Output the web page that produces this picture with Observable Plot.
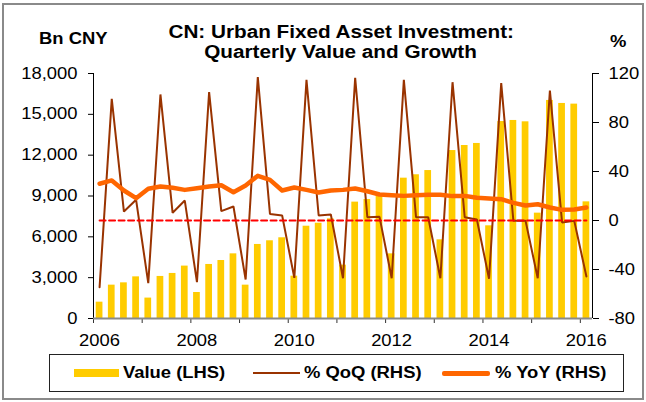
<!DOCTYPE html>
<html>
<head>
<meta charset="utf-8">
<script src="https://cdn.jsdelivr.net/npm/d3@7"></script>
<script src="https://cdn.jsdelivr.net/npm/@observablehq/plot@0.6"></script>
<style>
  html, body { margin: 0; padding: 0; background: #fff; }
  #wrap { position: relative; width: 646px; height: 402px; background: #fff; overflow: hidden;
          font-family: "Liberation Sans", Arial, sans-serif; color: #000; }
  #frame { position: absolute; left: 2px; top: 3px; width: 642px; height: 397px; box-sizing: border-box;
           border: 2px solid #8a8a8a; }
  .t { position: absolute; white-space: nowrap; }
  .s { display: inline-block; transform: scaleX(1.15); }
  #chart { position: absolute; left: 0; top: 60px; }
  #legend { position: absolute; left: 49px; top: 354px; width: 575px; height: 38px; box-sizing: border-box;
            border: 1.5px solid #222; }
  .sw { position: absolute; }
</style>
</head>
<body>
<div id="wrap">
  <div id="frame"></div>
  <div class="t" style="left:0;width:682px;top:21.5px;font:bold 18px/20px 'Liberation Sans',Arial,sans-serif;text-align:center;">
    <span class="s" style="transform-origin:center">CN: Urban Fixed Asset Investment:</span><br>
    <span class="s" style="transform-origin:center">Quarterly Value and Growth</span>
  </div>
  <div class="t" style="left:38.5px;top:30.8px;font:bold 16px/16px 'Liberation Sans',Arial,sans-serif;"><span class="s" style="transform-origin:left">Bn CNY</span></div>
  <div class="t" style="left:610px;top:33.5px;font:bold 16px/16px 'Liberation Sans',Arial,sans-serif;"><span class="s" style="transform-origin:left">%</span></div>
  <div id="chart"></div>
  <div class="sw" style="left:74px;top:369px;width:45px;height:8px;background:#FFCC00;"></div>
  <div class="sw" style="left:253px;top:372px;width:47px;height:2px;background:#993300;"></div>
  <div class="sw" style="left:442px;top:371px;width:48px;height:4.5px;border-radius:2px;background:#FF6600;"></div>
  <div id="legend"></div>
  <div class="t" style="left:123px;top:365.2px;font:bold 16px/16px 'Liberation Sans',Arial,sans-serif;"><span class="s" style="transform-origin:left">Value (LHS)</span></div>
  <div class="t" style="left:304px;top:365.2px;font:bold 16px/16px 'Liberation Sans',Arial,sans-serif;"><span class="s" style="transform-origin:left">% QoQ (RHS)</span></div>
  <div class="t" style="left:495px;top:365.2px;font:bold 16px/16px 'Liberation Sans',Arial,sans-serif;"><span class="s" style="transform-origin:left">% YoY (RHS)</span></div>
</div>
<script>
// ---- Data ----
const quarters = [
  "2006 Q1","2006 Q2","2006 Q3","2006 Q4",
  "2007 Q1","2007 Q2","2007 Q3","2007 Q4",
  "2008 Q1","2008 Q2","2008 Q3","2008 Q4",
  "2009 Q1","2009 Q2","2009 Q3","2009 Q4",
  "2010 Q1","2010 Q2","2010 Q3","2010 Q4",
  "2011 Q1","2011 Q2","2011 Q3","2011 Q4",
  "2012 Q1","2012 Q2","2012 Q3","2012 Q4",
  "2013 Q1","2013 Q2","2013 Q3","2013 Q4",
  "2014 Q1","2014 Q2","2014 Q3","2014 Q4",
  "2015 Q1","2015 Q2","2015 Q3","2015 Q4",
  "2016 Q1"
];
// Value, Bn CNY (LHS)
const valueLHS = [
  1200, 2450, 2620, 3060,
  1500, 3090, 3310, 3850,
  1910, 3970, 4260, 4750,
  2450, 5440, 5710, 5930,
  3110, 6780, 7000, 7320,
  3920, 8550, 8740, 9040,
  4750, 10310, 10560, 10870,
  5780, 12340, 12710, 12860,
  6810, 14470, 14550, 14450,
  7740, 16020, 15800, 15750,
  8570
];
// % QoQ (RHS)
const qoqRHS = [
  -54.4, 99.3, 7.3, 16.9,
  -51.2, 102.9, 6.3, 16.3,
  -50.3, 104.8, 7.6, 11.4,
  -48.2, 117.0, 5.4, 4.1,
  -46.8, 114.8, 4.1, 4.9,
  -47.1, 116.5, 2.7, 3.0,
  -47.1, 114.8, 2.7, 2.7,
  -47.1, 112.9, 2.7, 0.8,
  -47.6, 112.1, -0.3, -0.3,
  -47.1, 106.1, -1.6, -0.3,
  -45.7
];
// % YoY (RHS)
const yoyRHS = [
  30.0, 32.7, 24.5, 18.2,
  25.9, 27.8, 26.7, 25.0,
  26.4, 27.8, 28.8, 23.1,
  28.6, 36.5, 33.2, 24.5,
  26.9, 25.0, 22.9, 24.5,
  25.0, 26.1, 23.9, 21.2,
  20.7, 20.1, 20.7, 21.0,
  21.0, 19.9, 20.1, 18.5,
  18.0, 17.4, 14.4, 12.2,
  13.3, 10.6, 8.7, 9.0,
  10.6
];
const leftTicks = [0, 3000, 6000, 9000, 12000, 15000, 18000];
const rightTicks = [-80, -40, 0, 40, 80, 120];
const yearTicks = [2006, 2007, 2008, 2009, 2010, 2011, 2012, 2013, 2014, 2015, 2016];
const yearLabels = [2006, 2008, 2010, 2012, 2014, 2016];

// ---- Derived table ----
const L = [0, 18000], R = [-80, 120];
const toLeft = p => (p - R[0]) * (L[1] - L[0]) / (R[1] - R[0]) + L[0];
const fromLeft = v => (v - L[0]) * (R[1] - R[0]) / (L[1] - L[0]) + R[0];
const data = quarters.map((q, i) => {
  const [y, qq] = q.split(" Q").map(Number);
  return {q, t: y + (qq - 0.5) / 4, value: valueLHS[i], qoq: qoqRHS[i], yoy: yoyRHS[i], zero: 0};
});
const halfBar = 0.069;

const chart = Plot.plot({
  width: 646,
  height: 294,
  marginTop: 13,
  marginBottom: 36,
  marginLeft: 93,
  marginRight: 54,
  style: {fontFamily: "'Liberation Sans', Arial, sans-serif", fontSize: "16px", background: "transparent", overflow: "visible", color: "#000"},
  x: {type: "linear", domain: [2006, 2016.25]},
  y: {domain: L},
  marks: [
    Plot.rect(data, {x1: d => d.t - halfBar, x2: d => d.t + halfBar, y1: 0, y2: "value", fill: "#FFCC00"}),
    Plot.line(data, {x: "t", y: d => toLeft(d.qoq), stroke: "#993300", strokeWidth: 2, strokeLinejoin: "miter"}),
    Plot.line(data, {x: "t", y: d => toLeft(d.yoy), stroke: "#FF6600", strokeWidth: 4.5, strokeLinejoin: "round", strokeLinecap: "round"}),
    Plot.line(data, {x: "t", y: d => toLeft(d.zero), stroke: "#FF0000", strokeWidth: 2, strokeDasharray: "6,3.5"}),
    Plot.axisY({anchor: "left", ticks: leftTicks, tickFormat: d3.format(","), tickSize: 5, tickPadding: 11, label: null}),
    Plot.axisY({anchor: "right", ticks: rightTicks.map(toLeft), tickFormat: v => String(Math.round(fromLeft(v))), tickSize: 6, tickPadding: 10, label: null}),
    Plot.ruleX([2006], {stroke: "#000", strokeWidth: 1}),
    Plot.ruleX([2016.25], {stroke: "#000", strokeWidth: 1}),
    Plot.axisX({ticks: yearTicks, tickFormat: () => "", tickSize: 5, stroke: "#333", label: null}),
    Plot.axisX({ticks: yearLabels, tickFormat: d => String(d), tickSize: 0, tickPadding: 16, dx: 6, label: null}),
    Plot.ruleY([0], {stroke: "#8a8a8a", strokeWidth: 2})
  ]
});
document.getElementById("chart").appendChild(chart);

// stretch text horizontally (reference text is ~1.15x wide)
chart.querySelectorAll("text").forEach(el => {
  const x = +(el.getAttribute("x") || 0);
  const tr = el.getAttribute("transform") || "";
  el.setAttribute("transform", `${tr} translate(${x},0) scale(1.15,1) translate(${-x},0)`);
});
</script>
</body>
</html>
